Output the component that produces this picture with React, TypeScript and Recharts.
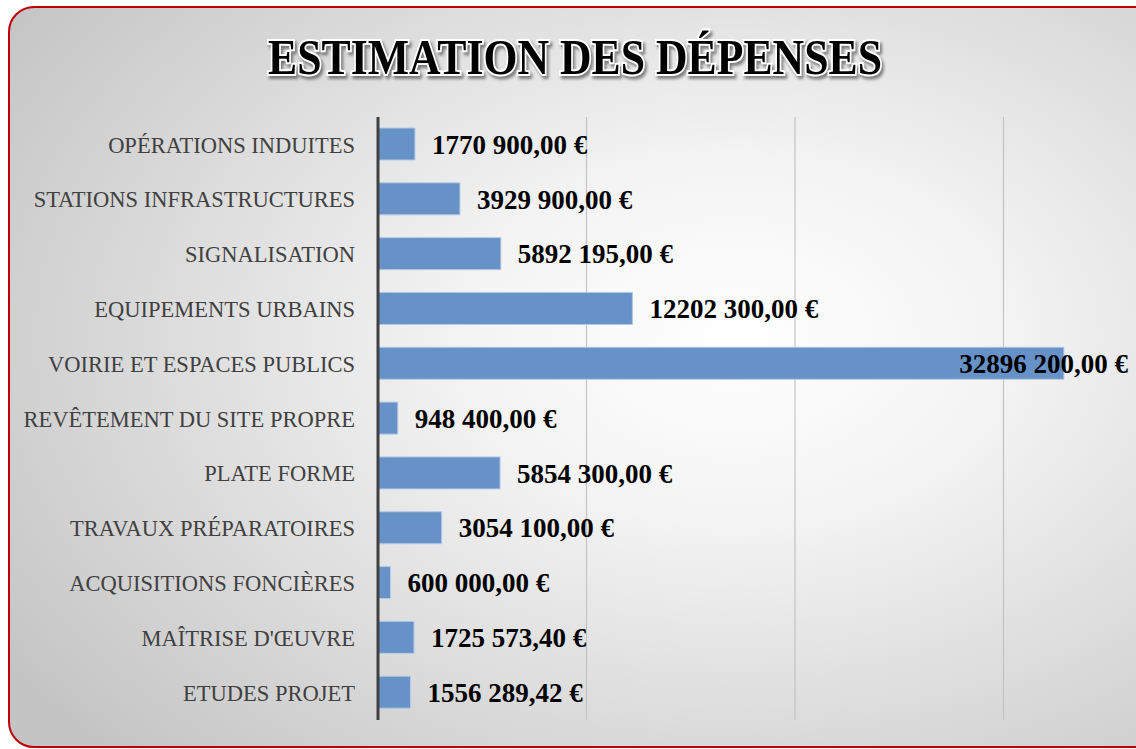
import React from 'react'
import { BarChart, Bar, XAxis, YAxis, CartesianGrid, LabelList } from 'recharts'

const categories = [
  'OPÉRATIONS INDUITES',
  'STATIONS INFRASTRUCTURES',
  'SIGNALISATION',
  'EQUIPEMENTS URBAINS',
  'VOIRIE ET ESPACES PUBLICS',
  'REVÊTEMENT DU SITE PROPRE',
  'PLATE FORME',
  'TRAVAUX PRÉPARATOIRES',
  'ACQUISITIONS FONCIÈRES',
  "MAÎTRISE D'ŒUVRE",
  'ETUDES PROJET'
]

const amounts = [
  1770900, 3929900, 5892195, 12202300, 32896200, 948400, 5854300, 3054100, 600000, 1725573.4,
  1556289.42
]

const xTicks = [0, 10000000, 20000000, 30000000, 40000000]

const data = categories.map((name, i) => ({ name, value: amounts[i] }))

const CHART_W = 1212
const VIEW_W = 1136

// Excel-style: only the last thousands group is separated
const formatEuro = (v: number) => {
  const thousands = Math.floor(v / 1000)
  const rest = (v - thousands * 1000).toFixed(2).replace('.', ',')
  const padded = rest.padStart(6, '0')
  return thousands > 0 ? `${thousands} ${padded} €` : `${rest} €`
}

const ValueLabel = (props: any) => {
  const { x, y, width, height, value } = props
  const end = x + width
  const cy = y + height / 2
  const text = formatEuro(value)
  // the label does not fit to the right of the longest bar: pull it back inside
  const overflow = end + 17 + text.length * 13 > VIEW_W
  return (
    <text
      x={overflow ? VIEW_W - 8 : end + 17}
      y={cy}
      dy="0.36em"
      textAnchor={overflow ? 'end' : 'start'}
      fontFamily="'Liberation Serif', serif"
      fontWeight="bold"
      fontSize={27}
      fill="#000"
    >
      {text}
    </text>
  )
}

const CategoryTick = (props: any) => {
  const { x, y, payload } = props
  return (
    <text
      x={x}
      y={y}
      dy="0.36em"
      textAnchor="end"
      fontFamily="'Liberation Serif', serif"
      fontSize={22.5}
      fill="#404040"
    >
      {payload.value}
    </text>
  )
}

export default function App() {
  return (
    <div
      style={{
        position: 'fixed',
        left: 0,
        top: 0,
        width: VIEW_W,
        height: 749,
        overflow: 'hidden',
        background: '#fff'
      }}
    >
      <div
        style={{
          position: 'absolute',
          left: 8,
          top: 6,
          width: 1170,
          height: 738,
          border: '2px solid #c00000',
          borderRadius: 26,
          background:
            'radial-gradient(ellipse 75% 80% at 62% 45%, #ffffff 0%, #f4f4f4 30%, #dcdcdc 65%, #c4c4c4 100%)'
        }}
      />
      <svg
        width={VIEW_W}
        height={100}
        style={{ position: 'absolute', left: 0, top: 0, overflow: 'visible' }}
      >
        <text
          x={575}
          y={74}
          textAnchor="middle"
          textLength={614}
          lengthAdjust="spacingAndGlyphs"
          fontFamily="'Liberation Serif', serif"
          fontWeight="bold"
          fontSize={51}
          fill="#000"
          stroke="#fff"
          strokeWidth={4}
          paintOrder="stroke"
          style={{ filter: 'drop-shadow(2px 3px 1.5px rgba(0,0,0,0.45))' }}
        >
          ESTIMATION DES DÉPENSES
        </text>
      </svg>
      <div style={{ position: 'absolute', left: 0, top: 0 }}>
        <BarChart
          width={CHART_W}
          height={749}
          data={data}
          layout="vertical"
          barSize={32}
          margin={{ top: 117, right: 0, bottom: 29, left: 0 }}
        >
          <CartesianGrid horizontal={false} stroke="#c3c3c3" strokeWidth={1.2} />
          <XAxis type="number" domain={[0, 40000000]} ticks={xTicks} hide />
          <YAxis
            type="category"
            dataKey="name"
            width={378}
            tickLine={false}
            tickSize={0}
            tickMargin={23}
            axisLine={{ stroke: '#404040', strokeWidth: 3 }}
            tick={<CategoryTick />}
            interval={0}
          />
          <Bar
            dataKey="value"
            fill="#6792c8"
            stroke="#b3c9e6"
            strokeWidth={1}
            isAnimationActive={false}
          >
            <LabelList dataKey="value" content={<ValueLabel />} />
          </Bar>
        </BarChart>
      </div>
    </div>
  )
}
